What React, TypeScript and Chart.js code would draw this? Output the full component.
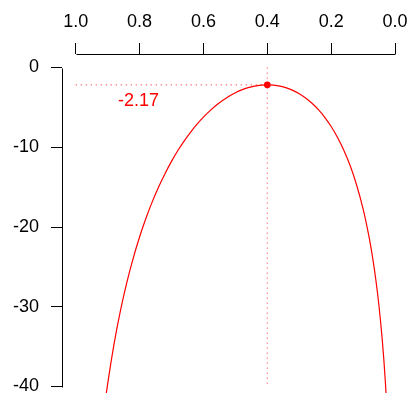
import React, { useEffect, useRef } from "react";
import { Chart, registerables } from "chart.js";

Chart.register(...registerables);

// Probability values (x) and log-likelihood values (y)
const pValues = [
  0.01, 0.015, 0.02, 0.025, 0.03, 0.035, 0.04, 0.05, 0.06, 0.07, 0.08, 0.09, 0.1,
  0.12, 0.14, 0.16, 0.18, 0.2, 0.22, 0.24, 0.26, 0.28, 0.3, 0.32, 0.34, 0.36, 0.38,
  0.4, 0.42, 0.44, 0.46, 0.48, 0.5, 0.52, 0.54, 0.56, 0.58, 0.6, 0.62, 0.64, 0.66,
  0.68, 0.7, 0.72, 0.74, 0.76, 0.78, 0.8, 0.82, 0.84, 0.86, 0.88, 0.9, 0.91, 0.92,
];
const logLik = [
  -60.92, -52.96, -47.36, -43.05, -39.56, -36.63, -34.12, -29.97, -26.64, -23.88, -21.53, -19.5, -17.73,
  -14.76, -12.36, -10.4, -8.77, -7.4, -6.25, -5.29, -4.49, -3.83, -3.3, -2.87, -2.56, -2.34, -2.21,
  -2.17, -2.21, -2.33, -2.53, -2.81, -3.17, -3.61, -4.14, -4.74, -5.44, -6.22, -7.1, -8.09, -9.19,
  -10.41, -11.77, -13.28, -14.95, -16.82, -18.91, -21.26, -23.93, -26.98, -30.52, -34.68, -39.7, -42.64, -45.96,
];

const xTickValues = [0, 0.2, 0.4, 0.6, 0.8, 1.0];
const yTickValues = [-40, -30, -20, -10, 0];

const mleP = [0.4];
const mleValue = [-2.17];
const mleLabel = "-2.17";
const labelPos = [0.803, -4.24];

const FONT = "'Liberation Sans', Arial, Helvetica, sans-serif";

export default function App() {
  const canvasRef = useRef<HTMLCanvasElement | null>(null);

  useEffect(() => {
    const canvas = canvasRef.current;
    if (!canvas) return;

    const curve = pValues.map((p, i) => ({ x: p, y: logLik[i] }));
    const mlePoints = mleP.map((p, i) => ({ x: p, y: mleValue[i] }));
    const hLine = [
      { x: 1.0, y: mleValue[0] },
      { x: mleP[0], y: mleValue[0] },
    ];
    const vLine = [
      { x: mleP[0], y: yTickValues[yTickValues.length - 1] },
      { x: mleP[0], y: yTickValues[0] },
    ];

    const axisPlugin = {
      id: "rAxes",
      afterDraw(chart: any) {
        const ctx = chart.ctx;
        const xs = chart.scales.x;
        const ys = chart.scales.y;
        const area = chart.chartArea;
        ctx.save();
        ctx.strokeStyle = "#000";
        ctx.lineWidth = 1;
        // top axis line (from first to last tick)
        const xa = xs.getPixelForValue(xTickValues[xTickValues.length - 1]);
        const xb = xs.getPixelForValue(xTickValues[0]);
        const yTop = Math.round(area.top) + 0.5;
        ctx.beginPath();
        ctx.moveTo(Math.round(xa) + 0.5, yTop);
        ctx.lineTo(Math.round(xb) + 0.5, yTop);
        ctx.stroke();
        // left axis line
        const ya = ys.getPixelForValue(yTickValues[yTickValues.length - 1]);
        const yb = ys.getPixelForValue(yTickValues[0]);
        const xLeft = Math.round(area.left) + 0.5;
        ctx.beginPath();
        ctx.moveTo(xLeft, Math.round(ya) + 0.5);
        ctx.lineTo(xLeft, Math.round(yb) + 0.5);
        ctx.stroke();
        // MLE label
        ctx.fillStyle = "#ff0000";
        ctx.font = `18px ${FONT}`;
        ctx.textAlign = "center";
        ctx.textBaseline = "middle";
        ctx.fillText(mleLabel, xs.getPixelForValue(labelPos[0]), ys.getPixelForValue(labelPos[1]));
        ctx.restore();
      },
    };

    const chart = new Chart(canvas, {
      type: "line",
      data: {
        datasets: [
          {
            data: vLine,
            borderColor: "rgba(255,0,0,0.55)",
            borderWidth: 1.2,
            borderDash: [1.2, 3.8],
            pointRadius: 0,
            fill: false,
          },
          {
            data: hLine,
            borderColor: "rgba(255,0,0,0.6)",
            borderWidth: 1.2,
            borderDash: [1.2, 3.8],
            pointRadius: 0,
            fill: false,
          },
          {
            data: curve,
            borderColor: "#ff0000",
            borderWidth: 1.2,
            pointRadius: 0,
            cubicInterpolationMode: "monotone",
            fill: false,
          },
          {
            data: mlePoints,
            showLine: false,
            pointRadius: 3.4,
            pointBackgroundColor: "#ff0000",
            pointBorderWidth: 0,
            borderColor: "#ff0000",
            clip: false,
          },
        ],
      } as any,
      options: {
        animation: false,
        responsive: false,
        maintainAspectRatio: false,
        devicePixelRatio: 1,
        layout: { padding: 0, autoPadding: false },
        plugins: {
          legend: { display: false },
          tooltip: { enabled: false },
        },
        events: [],
        scales: {
          x: {
            type: "linear",
            position: "top",
            reverse: true,
            min: -0.0438,
            max: 1.0429,
            afterBuildTicks: (scale: any) => {
              scale.ticks = xTickValues.map((v) => ({ value: v }));
            },
            afterFit: (scale: any) => {
              scale.height = 54;
              scale.paddingLeft = 0;
              scale.paddingRight = 0;
              scale.paddingTop = 0;
              scale.paddingBottom = 0;
            },
            ticks: {
              autoSkip: false,
              maxRotation: 0,
              minRotation: 0,
              padding: 10,
              color: "#000",
              font: { family: FONT, size: 18 },
              callback: (v: any) => Number(v).toFixed(1),
            },
            grid: {
              drawOnChartArea: false,
              drawTicks: true,
              tickLength: 11,
              color: "#000",
              lineWidth: 1,
            },
            border: { display: false },
          },
          y: {
            type: "linear",
            position: "left",
            min: -40.815,
            max: 1.693,
            afterBuildTicks: (scale: any) => {
              scale.ticks = yTickValues.map((v) => ({ value: v }));
            },
            afterFit: (scale: any) => {
              scale.width = 62;
              scale.paddingLeft = 0;
              scale.paddingRight = 0;
              scale.paddingTop = 0;
              scale.paddingBottom = 0;
            },
            ticks: {
              autoSkip: false,
              padding: 12,
              color: "#000",
              font: { family: FONT, size: 18 },
              callback: (v: any) => String(v),
            },
            grid: {
              drawOnChartArea: false,
              drawTicks: true,
              tickLength: 11,
              color: "#000",
              lineWidth: 1,
            },
            border: { display: false },
          },
        },
      } as any,
      plugins: [axisPlugin],
    });

    return () => {
      chart.destroy();
    };
  }, []);

  return (
    <div style={{ position: "fixed", left: 0, top: 0, width: 409, height: 393, background: "#fff" }}>
      <canvas ref={canvasRef} width={409} height={393} style={{ display: "block", width: 409, height: 393 }} />
    </div>
  );
}
